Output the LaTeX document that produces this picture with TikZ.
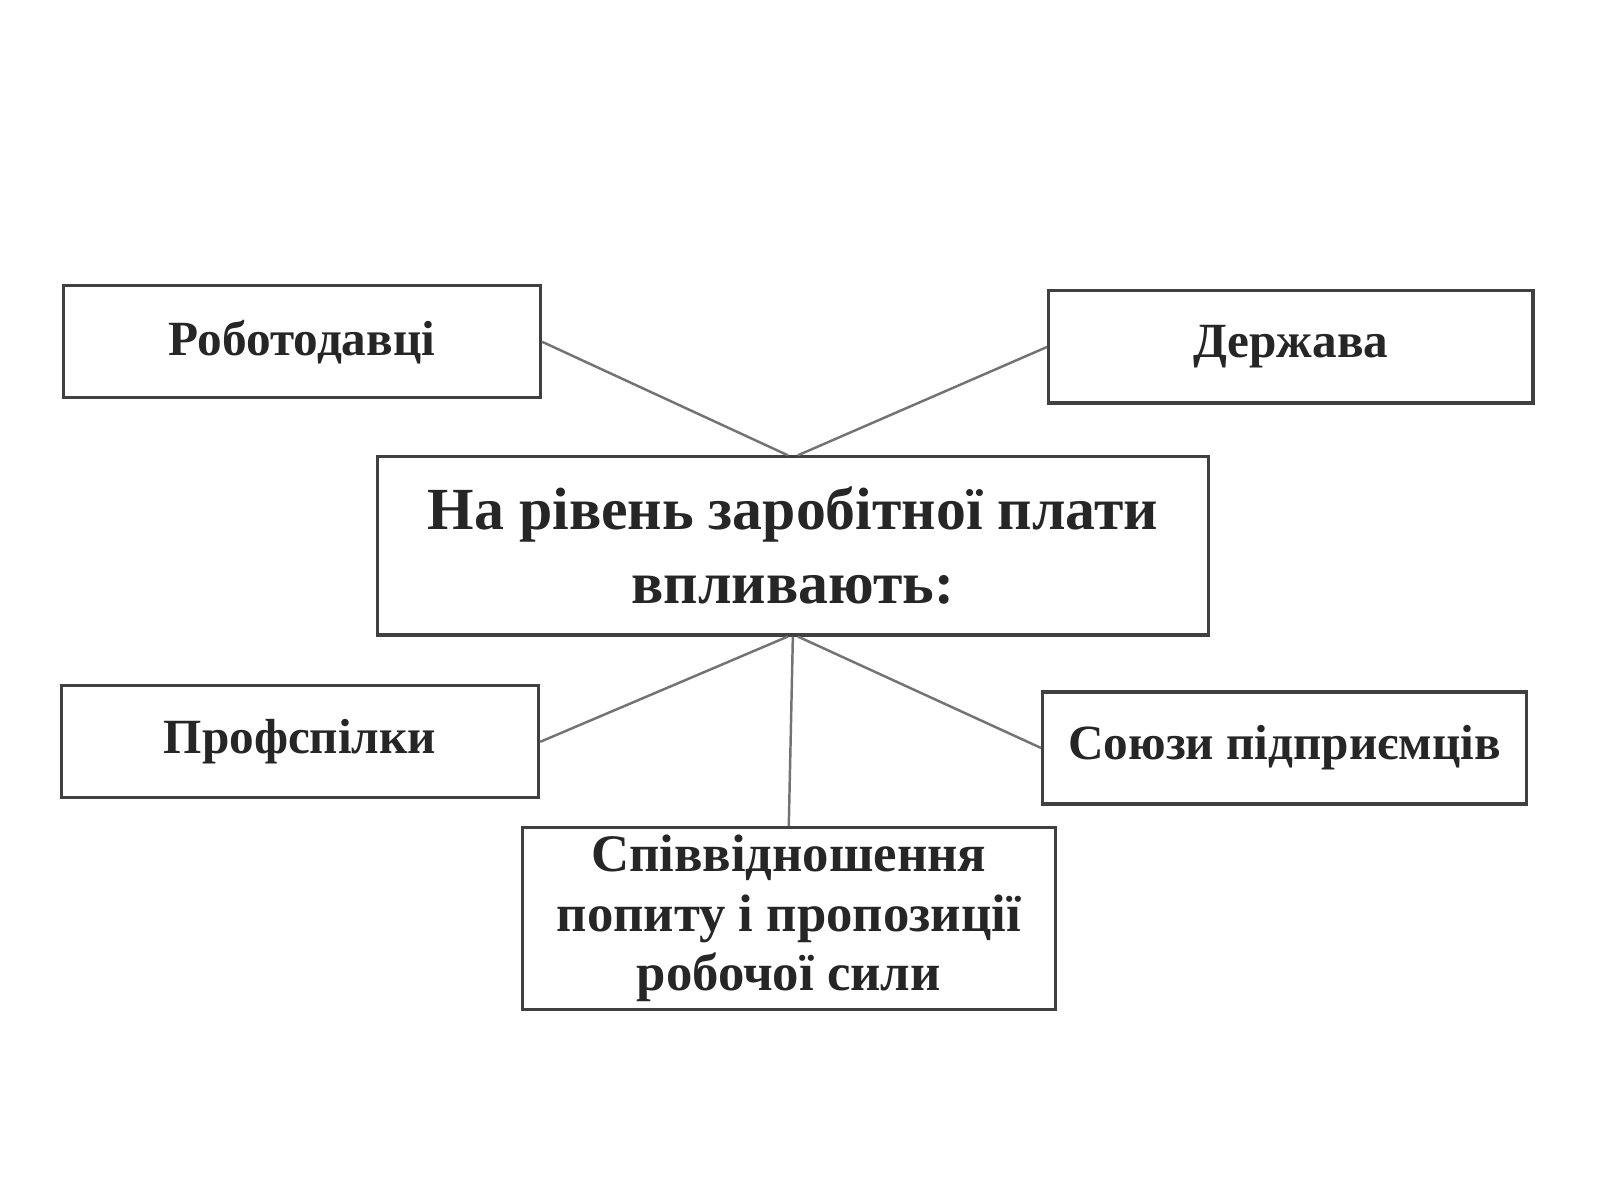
\documentclass[tikz,border=0pt]{standalone}
\usepackage{fontspec}
\setmainfont{Liberation Serif}
\begin{document}
\begin{tikzpicture}[x=1.02cm,y=-1.02cm,
  box/.style={draw=black!75,line width=0.9pt,minimum height=1.12cm,inner sep=2pt,
    font=\fontsize{14}{15}\selectfont\bfseries,text=black!85},
  link/.style={draw=black!55,line width=0.7pt}]
  \useasboundingbox (0,0) rectangle (15.68,11.76);
  \node[box,minimum width=4.77cm] (emp) at (2.96,3.35) {Роботодавці};
  \node[box,minimum width=4.84cm] (state) at (12.65,3.40) {Держава};
  \node[box,minimum width=8.31cm,minimum height=1.78cm,align=center,
    font=\fontsize{17}{21}\selectfont\bfseries] (ctr) at (7.77,5.35)
    {На рівень заробітної плати\\впливають:};
  \node[box,minimum width=4.77cm] (unions) at (2.94,7.27) {Профспілки};
  \node[box,minimum width=4.84cm] (bosses) at (12.59,7.33) {Союзи підприємців};
  \node[box,minimum width=5.33cm,minimum height=1.63cm,align=center,
    font=\fontsize{15}{17}\selectfont\bfseries] (supply) at (7.73,9.0)
    {Співвідношення\\попиту і пропозиції\\робочої сили};

  \draw[link] (emp.east) -- ([xshift=-0.05cm]ctr.north);
  \draw[link] (state.west) -- ([xshift=0.05cm]ctr.north);
  \draw[link] ([xshift=-0.05cm]ctr.south) -- (unions.east);
  \draw[link] ([xshift=0.05cm]ctr.south) -- (bosses.west);
  \draw[link] (ctr.south) -- (supply.north);
\end{tikzpicture}
\end{document}
